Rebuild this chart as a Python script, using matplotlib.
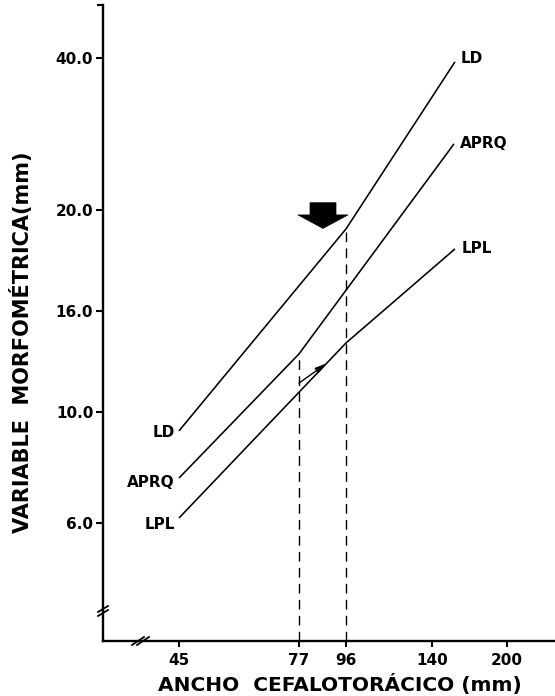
import numpy as np
import matplotlib
matplotlib.use('Agg')
import matplotlib.pyplot as plt

# Marcas de los ejes (escala irregular del original)
X_TICKS = [45, 77, 96, 140, 200]
Y_TICKS = [6.0, 10.0, 16.0, 20.0, 40.0]
# posicion en pixeles de cada marca en la figura (y medida desde abajo)
X_TICK_PX = [179, 299, 346, 432, 507]
Y_TICK_PX = [173, 284, 385, 486, 638]

# Rectas alometricas: ancho cefalotoracico vs variable morfometrica
ld_x = [45, 96, 158.4]
ld_y = [9.32, 19.25, 39.5]
aprq_x = [45, 77, 157.6]
aprq_y = [7.62, 13.45, 28.7]
lpl_x = [45, 96, 158.4]
lpl_y = [6.18, 14.1, 18.46]

# puntos de quiebre (lineas punteadas)
quiebre_x = [77, 96]
quiebre_y = [13.45, 19.25]

W, H = 555, 696


def escala(vals, pos):
    """Escala lineal por tramos entre las marcas, extrapolada en los extremos."""
    vals = np.asarray(vals, float)
    pos = np.asarray(pos, float)

    def tramo(v, a, b):
        v = np.asarray(v, float)
        out = np.interp(v, a, b)
        lo = v < a[0]
        hi = v > a[-1]
        out = np.where(lo, b[0] + (v - a[0]) * (b[1] - b[0]) / (a[1] - a[0]), out)
        out = np.where(hi, b[-1] + (v - a[-1]) * (b[-1] - b[-2]) / (a[-1] - a[-2]), out)
        return out

    return (lambda v: tramo(v, vals, pos)), (lambda p: tramo(p, pos, vals))


fx, ix = escala(X_TICKS, X_TICK_PX)
fy, iy = escala(Y_TICKS, Y_TICK_PX)

fig = plt.figure(figsize=(W / 100, H / 100), dpi=100)
ax_l, ax_b, ax_r, ax_t = 103, 55, 555, 691
ax = fig.add_axes([ax_l / W, ax_b / H, (ax_r - ax_l) / W, (ax_t - ax_b) / H])
ax.set_xscale('function', functions=(fx, ix))
ax.set_yscale('function', functions=(fy, iy))
xmin, xmax = float(ix(ax_l)), float(ix(ax_r))
ymin, ymax = float(iy(ax_b)), float(iy(ax_t))
ax.set_xlim(xmin, xmax)
ax.set_ylim(ymin, ymax)

lw = 1.15
for xs, ys in [(ld_x, ld_y), (aprq_x, aprq_y), (lpl_x, lpl_y)]:
    ax.plot(xs, ys, color='black', lw=lw, solid_capstyle='butt')

for qx, qy in zip(quiebre_x, quiebre_y):
    ax.plot([qx, qx], [ymin, qy], color='black', lw=1.0, ls=(0, (7, 4.5)))

# etiquetas de las rectas
lab = dict(fontsize=11, fontweight='bold', family='DejaVu Sans',
           textcoords='offset points', va='center')
ax.annotate('LD', (ld_x[0], ld_y[0]), xytext=(-3, -1.5), ha='right', **lab)
ax.annotate('APRQ', (aprq_x[0], aprq_y[0]), xytext=(-3, -3.5), ha='right', **lab)
ax.annotate('LPL', (lpl_x[0], lpl_y[0]), xytext=(-3, -4.5), ha='right', **lab)
ax.annotate('LD', (ld_x[-1], ld_y[-1]), xytext=(4, 2.5), ha='left', **lab)
ax.annotate('APRQ', (aprq_x[-1], aprq_y[-1]), xytext=(4.5, 0), ha='left', **lab)
ax.annotate('LPL', (lpl_x[-1], lpl_y[-1]), xytext=(4.5, 0), ha='left', **lab)

# flecha grande
ax.annotate('', xy=(86.7, 19.27), xytext=(0, 18.5), textcoords='offset points',
            arrowprops=dict(arrowstyle='simple,head_length=0.27,head_width=1.0,tail_width=0.52',
                            mutation_scale=36, fc='black', ec='black', lw=0.5,
                            shrinkA=0, shrinkB=0))
# flecha pequena sobre LPL
ax.annotate('', xy=(88.3, 12.9), xytext=(77, 11.72),
            arrowprops=dict(arrowstyle='-|>,head_length=0.7,head_width=0.18',
                            mutation_scale=10, fc='black', ec='black', lw=1.0,
                            shrinkA=0, shrinkB=0))

# ejes
for s in ['top', 'right']:
    ax.spines[s].set_visible(False)
for s in ['left', 'bottom']:
    ax.spines[s].set_linewidth(1.7)

ax.set_xticks(X_TICKS, labels=[str(v) for v in X_TICKS])
ax.set_yticks(Y_TICKS, labels=['%.1f' % v for v in Y_TICKS])
ax.set_yticks([ymax], minor=True)
ax.tick_params(axis='x', direction='out', length=4.5, width=1.5, pad=4, labelsize=11)
ax.tick_params(axis='y', direction='out', length=5, width=1.5, pad=2, labelsize=11)
ax.tick_params(axis='y', which='minor', direction='out', length=4.5, width=1.5)
for t in ax.get_xticklabels() + ax.get_yticklabels():
    t.set_fontweight('bold')

# marcas de corte de los ejes
pw, ph = ax_r - ax_l, ax_t - ax_b
def corte(x0, y0, dx, dy, sx, sy):
    for k in (0, 1):
        ax.plot([(x0 + k * sx - dx) / pw, (x0 + k * sx + dx) / pw],
                [(y0 + k * sy - dy) / ph, (y0 + k * sy + dy) / ph],
                transform=ax.transAxes, color='black', lw=1.3, clip_on=False)

corte(0, 28, 5, 3, 0, 4)
corte(35, 0, 6, 4, 5, 0)

fig.text(340 / W, 1 - 685 / H, 'ANCHO  CEFALOTORÁCICO (mm)', ha='center', va='center',
         fontsize=14.5, fontweight='bold', family='DejaVu Sans')
fig.text(22 / W, 1 - 342 / H, 'VARIABLE  MORFOMÉTRICA(mm)', ha='center', va='center',
         rotation=90, fontsize=15, fontweight='bold', family='DejaVu Sans')

fig.savefig('out.png', dpi=100)
